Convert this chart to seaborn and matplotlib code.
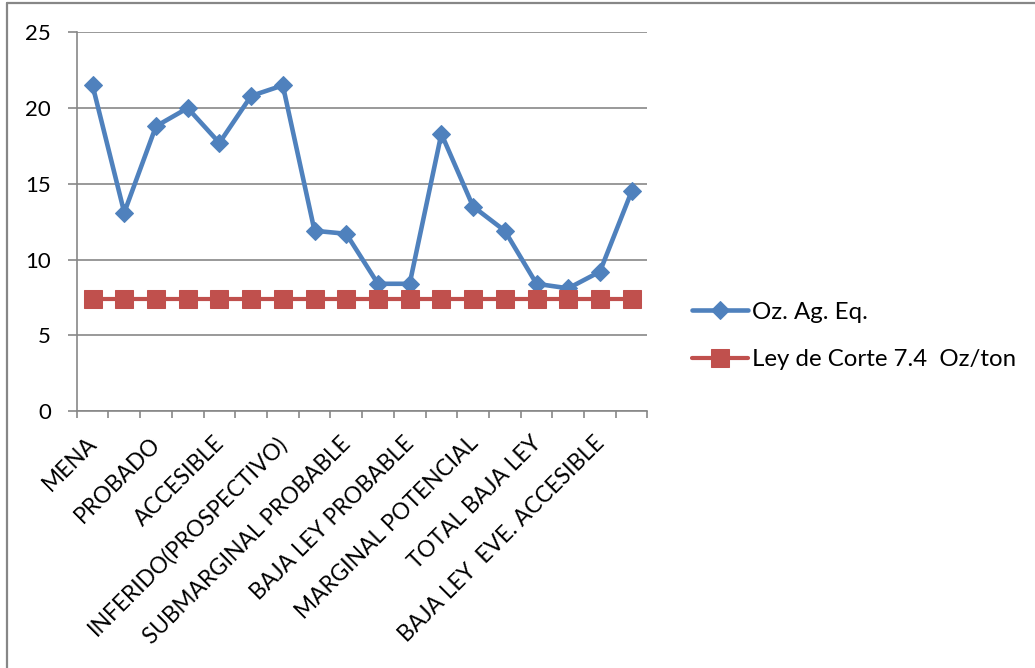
import numpy as np
import matplotlib
matplotlib.use("Agg")
import matplotlib.pyplot as plt
from matplotlib.lines import Line2D
import seaborn as sns

# Grade per reserve category (Oz. Ag. equivalent)
oz_ag_eq = [21.5, 13.1, 18.8, 20.0, 17.7, 20.8, 21.5, 11.9, 11.7,
            8.4, 8.4, 18.3, 13.5, 11.9, 8.4, 8.1, 9.2, 14.5]
# Cut-off grade, constant across categories
cutoff = [7.4] * len(oz_ag_eq)

# Category labels shown on every other position
tick_labels = ["MENA", "PROBADO", "ACCESIBLE", "INFERIDO(PROSPECTIVO)",
               "SUBMARGINAL PROBABLE", "BAJA LEY PROBABLE",
               "MARGINAL POTENCIAL", "TOTAL BAJA LEY",
               "BAJA LEY  EVE. ACCESIBLE"]

series_names = ["Oz. Ag. Eq.", "Ley de Corte 7.4  Oz/ton"]

sns.set_theme(style="white")
plt.rcParams["font.family"] = ["Lato", "DejaVu Sans"]

BLUE = "#4F81BD"
RED = "#C0504D"
GRAY = "#878787"

fig = plt.figure(figsize=(10.35, 6.68), dpi=100)
ax = fig.add_axes([0.0741, 0.3847, 0.5515, 0.5669])

x = np.arange(len(oz_ag_eq))
sns.lineplot(x=x, y=oz_ag_eq, ax=ax, color=BLUE, linewidth=3.3,
             marker="D", markersize=9.5, markeredgecolor=BLUE,
             label=series_names[0], zorder=3)
sns.lineplot(x=x, y=cutoff, ax=ax, color=RED, linewidth=3.0,
             marker="s", markersize=13.5, markeredgecolor=RED,
             label=series_names[1], zorder=4)

ax.set_xlim(-0.5, len(x) - 0.5)
ax.set_ylim(0, 25)
ax.set_yticks(np.arange(0, 26, 5))
ax.yaxis.grid(True, color=GRAY, linewidth=1.2)
ax.set_axisbelow(True)

# tick marks sit on category boundaries, labels on every other category
ax.set_xticks(np.arange(-0.5, len(x), 1.0))
ax.set_xticklabels([])
label_pos = np.arange(0, len(x), 2)
for pos, lab in zip(label_pos, tick_labels):
    ax.annotate(lab, xy=(pos, 0), xycoords=("data", "axes fraction"),
                xytext=(1, -21), textcoords="offset points",
                rotation=45, rotation_mode="anchor",
                ha="right", va="center", fontsize=16.3, color="black")

ax.tick_params(axis="x", direction="out", length=5, width=1.2, color=GRAY,
               bottom=True)
ax.tick_params(axis="y", direction="out", length=6.5, width=1.2, color=GRAY,
               left=True, labelsize=16, labelcolor="black", pad=12)

for side in ["top", "right"]:
    ax.spines[side].set_visible(False)
for side in ["left", "bottom"]:
    ax.spines[side].set_color(GRAY)
    ax.spines[side].set_linewidth(1.2)

ax.set_xlabel("")
ax.set_ylabel("")

leg = ax.legend(loc="center left", bbox_to_anchor=(0.6686, 0.497),
                bbox_transform=fig.transFigure, frameon=False,
                fontsize=17.3, handlelength=2.33, handletextpad=0.17,
                borderpad=0, borderaxespad=0, labelspacing=1.1)
for t in leg.get_texts():
    t.set_color("black")

# chart-area frame (top and left edges)
fig.add_artist(Line2D([0.0068, 1.0], [0.9955, 0.9955], transform=fig.transFigure,
                      color=GRAY, linewidth=1.6))
fig.add_artist(Line2D([0.0068, 0.0068], [0.0, 0.9955], transform=fig.transFigure,
                      color=GRAY, linewidth=1.6))

fig.savefig("out.png", dpi=100)
